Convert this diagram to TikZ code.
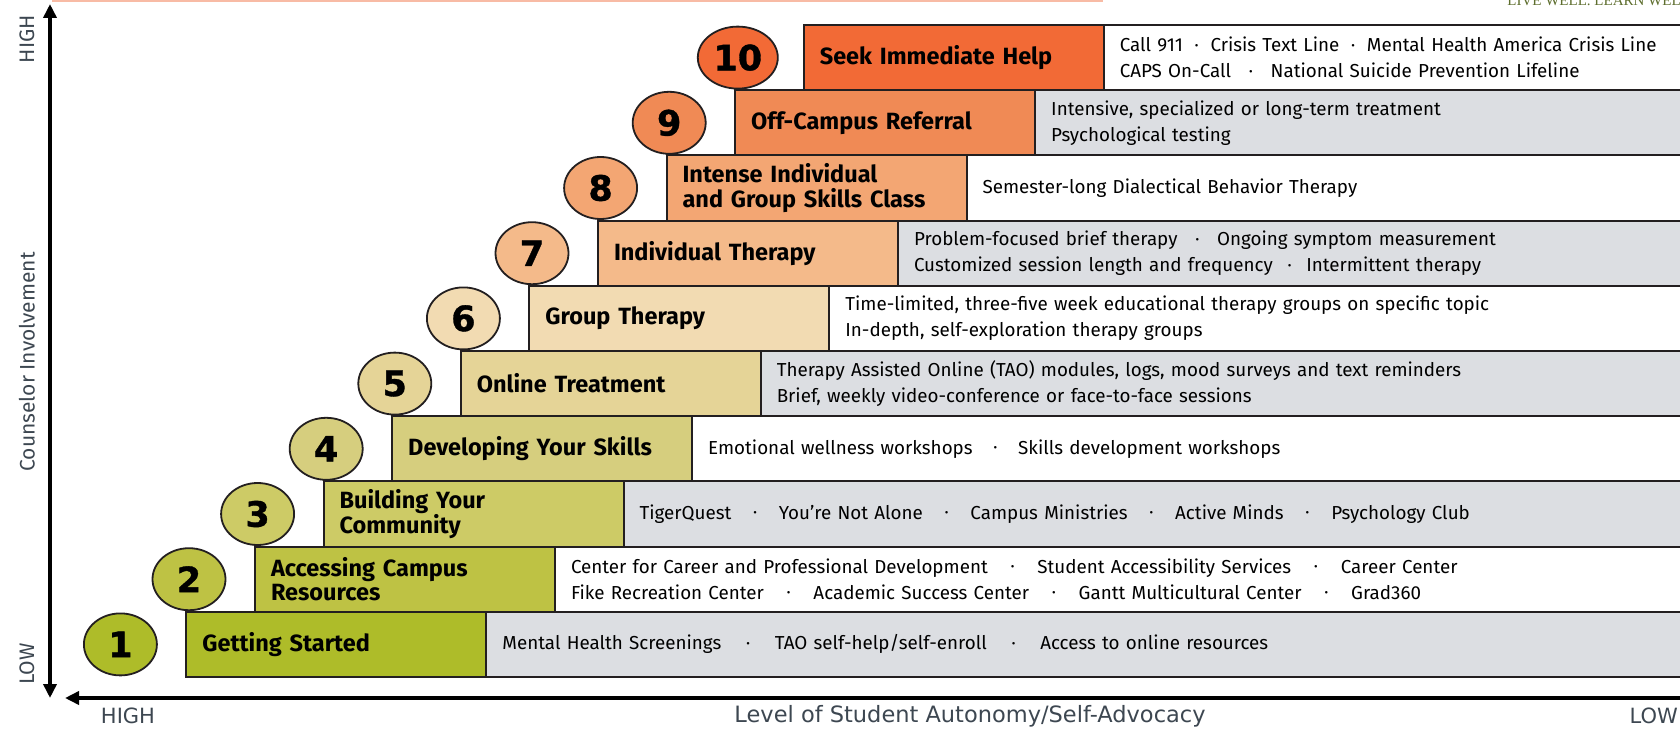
\documentclass[tikz,border=0pt]{standalone}
\usepackage{fontspec}
\setmainfont{Fira Sans}
\newfontfamily\numfont[FakeBold=1]{DejaVu Sans}
\newfontfamily\axisfont{DejaVu Sans}
\newfontfamily\logofont{Liberation Serif}
\usetikzlibrary{shapes.geometric,arrows.meta}

\definecolor{stepA}{HTML}{AEBC29}
\definecolor{stepB}{HTML}{BEC244}
\definecolor{stepC}{HTML}{CDCB66}
\definecolor{stepD}{HTML}{D6CE7E}
\definecolor{stepE}{HTML}{E5D497}
\definecolor{stepF}{HTML}{F2DBB2}
\definecolor{stepG}{HTML}{F4BA8A}
\definecolor{stepH}{HTML}{F3A673}
\definecolor{stepI}{HTML}{F08A55}
\definecolor{stepJ}{HTML}{F26A36}
\definecolor{infogray}{HTML}{DCDEE2}
\definecolor{edge}{HTML}{231F20}
\definecolor{axisgray}{HTML}{3D4751}
\definecolor{logogreen}{HTML}{5E6E2E}
\definecolor{rule}{HTML}{F8BBA5}

% small dot between items
\newcommand\bul[1][12pt]{\hspace{#1}\raisebox{2.5pt}{\fontsize{11}{11}\selectfont\textbullet}\hspace{#1}}

\tikzset{
	stepbox/.style={draw=edge, line width=2pt, anchor=north west, minimum width=300pt, minimum height=65.2pt,
		inner xsep=16pt, inner ysep=0pt, text width=268pt, align=left, font=\fontsize{23.5}{24.5}\selectfont\bfseries},
	infobox/.style={draw=edge, line width=2pt, anchor=north west, minimum height=65.2pt,
		inner xsep=16pt, inner ysep=0pt, align=left, font=\fontsize{18.8}{26}\selectfont},
	numdot/.style={ellipse, draw=edge, line width=1.8pt, minimum height=62pt, inner sep=1pt,
		font=\numfont\fontsize{35}{35}\selectfont\bfseries},
	axis/.style={line width=3.5pt, black},
	axislab/.style={text=axisgray, inner sep=0pt},
}

\begin{document}
\begin{tikzpicture}[x=1pt,y=-1pt]
	\useasboundingbox (0,0) rectangle (1680,730);
	\draw[rule, line width=2pt] (52,1) -- (1103,1);
	\node[text=logogreen, anchor=base east, inner sep=0pt, font=\logofont\fontsize{15}{15}\selectfont] (logo) at (1690,6) {LIVE WELL. LEARN WELL};
	
	\foreach \i/\col/\lab/\desc in {
		1/stepA/{Getting Started}/{Mental Health Screenings\bul[25pt]TAO self-help/self-enroll\bul[25pt]Access to online resources},
		2/stepB/{Accessing Campus\\Resources}/{Center for Career and Professional Development\bul[23pt]Student Accessibility Services\bul[23pt]Career Center\\Fike Recreation Center\bul[23pt]Academic Success Center\bul[23pt]Gantt Multicultural Center\bul[23pt]Grad360},
		3/stepC/{Building Your\\Community}/{TigerQuest\bul[22pt]You’re Not Alone\bul[22pt]Campus Ministries\bul[22pt]Active Minds\bul[22pt]Psychology Club},
		4/stepD/{Developing Your Skills}/{Emotional wellness workshops\bul[21pt]Skills development workshops},
		5/stepE/{Online Treatment}/{Therapy Assisted Online (TAO) modules, logs, mood surveys and text reminders\\Brief, weekly video-conference or face-to-face sessions},
		6/stepF/{Group Therapy}/{Time-limited, three-five week educational therapy groups on specific topic\\In-depth, self-exploration therapy groups},
		7/stepG/{Individual Therapy}/{Problem-focused brief therapy\bul[18pt]Ongoing symptom measurement\\Customized session length and frequency\bul[15pt]Intermittent therapy},
		8/stepH/{Intense Individual\\and Group Skills Class}/{Semester-long Dialectical Behavior Therapy},
		9/stepI/{Off-Campus Referral}/{Intensive, specialized or long-term treatment\\Psychological testing},
		10/stepJ/{Seek Immediate Help}/{Call 911\bul[12pt]Crisis Text Line\bul[12pt]Mental Health America Crisis Line\\CAPS On-Call\bul[18pt]National Suicide Prevention Lifeline}}
	{
		\pgfmathsetmacro\xl{185.4+68.6*(\i-1)}
		\pgfmathsetmacro\yt{676-65.2*\i}
		\pgfmathsetmacro\infow{1700-\xl-300}
		\pgfmathsetmacro\infotw{\infow-32}
		\pgfmathsetmacro\numw{\i==10 ? 80 : 73}
		\ifodd\i\relax \def\bg{infogray}\else \def\bg{white}\fi
		\node[infobox, fill=\bg, minimum width=\infow pt, text width=\infotw pt] (info\i) at (\xl+300,\yt) {\desc};
		\node[stepbox, fill=\col] (step\i) at (\xl,\yt) {\lab};
		\node[numdot, fill=\col, minimum width=\numw pt] (num\i) at ([xshift=-65pt]step\i.west) {\i};
	}
	
	% axes
	\coordinate (ytop) at (50,4);
	\coordinate (ybot) at (50,698);
	\coordinate (xtip) at (65,698);
	\coordinate (xend) at (1690,698);
	\draw[axis, {Triangle[width=13pt,length=14pt]}-{Triangle[width=13pt,length=14pt]}] (ybot) -- (ytop);
	\draw[axis, -{Triangle[width=13pt,length=14pt]}] (xend) -- (xtip);
	
	\node[axislab, font=\axisfont\fontsize{21}{21}\selectfont] (xhigh) at (128,716) {HIGH};
	\node[axislab, font=\axisfont\fontsize{22.5}{22.5}\selectfont] (xname) at (970,716) {Level of Student Autonomy/Self-Advocacy};
	\node[axislab, font=\axisfont\fontsize{21}{21}\selectfont, anchor=east] (xlow) at (1678,716) {LOW};
	\node[axislab, rotate=90, font=\fontsize{21}{21}\selectfont] (yhigh) at (27,39) {HIGH};
	\node[axislab, rotate=90, font=\fontsize{21}{21}\selectfont] (yname) at (27,362) {Counselor Involvement};
	\node[axislab, rotate=90, font=\fontsize{21}{21}\selectfont] (ylow) at (27,664) {LOW};
\end{tikzpicture}
\end{document}
